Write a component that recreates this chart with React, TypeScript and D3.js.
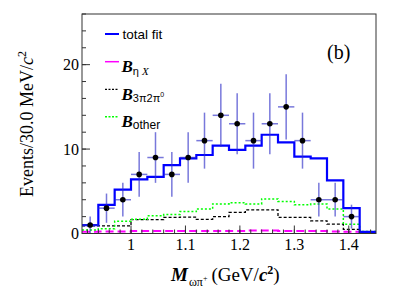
import React from 'react';
import * as d3 from 'd3';

// bin centres (GeV/c^2), 30 MeV bins
const binCenters = [0.925, 0.955, 0.985, 1.015, 1.045, 1.075, 1.105, 1.135, 1.165, 1.195, 1.225, 1.255, 1.285, 1.315, 1.345, 1.375, 1.405, 1.435];
const binHalfWidth = 0.015;
const dataCounts = [1, 3, 4, 7, 9, 7, 9, 11, 14, 13, 11, 13, 15, 11, 4, 4, 2, 0];
const totalFit = [1.0, 3.4, 5.2, 6.4, 6.7, 8.1, 8.9, 9.3, 10.4, 9.9, 10.4, 11.7, 10.8, 9.1, 8.9, 6.3, 3.0, 0.2];
const bkgEtaX = [0.2, 0.25, 0.25, 0.3, 0.3, 0.3, 0.3, 0.3, 0.3, 0.3, 0.35, 0.35, 0.3, 0.3, 0.3, 0.25, 0.2, 0.1];
const bkg3pi2pi0 = [0.9, 0.9, 0.9, 1.65, 1.65, 1.9, 1.95, 1.67, 2.0, 2.5, 2.8, 2.8, 1.9, 1.9, 1.5, 1.1, 0.5, 0.2];
const bkgOther = [0.4, 0.55, 1.45, 1.7, 2.1, 2.25, 2.6, 2.9, 3.5, 3.65, 3.5, 4.1, 3.8, 3.4, 3.5, 2.9, 1.1, 0.24];
const xTicks = [1, 1.1, 1.2, 1.3, 1.4];
const yTicks = [0, 10, 20];

const W = 409;
const H = 293;
const serif = '"Liberation Serif", "DejaVu Serif", serif';
const sans = '"Liberation Sans", Arial, sans-serif';

export default function App() {
  const x = d3.scaleLinear().domain([0.91, 1.45]).range([82, 376]);
  const y = d3.scaleLinear().domain([0, 26]).range([233.5, 14]);

  const stepPath = (vals: number[]) => {
    const pts: [number, number][] = vals.map((v, i) => [binCenters[i] - binHalfWidth, v]);
    pts.push([binCenters[binCenters.length - 1] + binHalfWidth, vals[vals.length - 1]]);
    return d3
      .line<[number, number]>()
      .x((d) => x(d[0]))
      .y((d) => y(d[1]))
      .curve(d3.curveStepAfter)(pts) as string;
  };

  const minorX = d3.range(0.92, 1.451, 0.02);
  const minorY = d3.range(0, 26.01, 2);

  const legend = [
    { color: '#0000ff', dash: '', width: 2, y: 34 },
    { color: '#ff00ff', dash: '', width: 1.5, y: 61.7 },
    { color: '#000', dash: '2,1.5', width: 1.3, y: 89.3 },
    { color: '#00ff00', dash: '2,1.5', width: 1.5, y: 116.7 },
  ];

  return (
    <svg width={W} height={H} style={{ position: 'absolute', left: 0, top: 0, background: '#fff' }}>
      {/* background histograms */}
      <path d={stepPath(bkgEtaX)} fill="none" stroke="#ff00ff" strokeWidth={2} strokeDasharray="8,4" />
      <path d={stepPath(bkg3pi2pi0)} fill="none" stroke="#000" strokeWidth={1.3} strokeDasharray="3,2" />
      <path d={stepPath(bkgOther)} fill="none" stroke="#00ff00" strokeWidth={1.5} strokeDasharray="2,2" />
      <path d={stepPath(totalFit)} fill="none" stroke="#0000ff" strokeWidth={2.2} />

      {/* data points */}
      {dataCounts.map((n, i) =>
        n > 0 ? (
          <g key={i}>
            <line x1={x(binCenters[i])} x2={x(binCenters[i])} y1={y(n - Math.sqrt(n))} y2={y(n + Math.sqrt(n))} stroke="#3030c8" strokeOpacity={0.65} strokeWidth={1.5} />
            <line x1={x(binCenters[i] - binHalfWidth)} x2={x(binCenters[i] + binHalfWidth)} y1={y(n)} y2={y(n)} stroke="#3030c8" strokeOpacity={0.65} strokeWidth={1.5} />
            <circle cx={x(binCenters[i])} cy={y(n)} r={2.8} fill="#000" />
          </g>
        ) : null
      )}

      {/* frame */}
      <rect x={82} y={14} width={294} height={219.5} fill="none" stroke="#333" strokeWidth={1} />

      {/* x ticks */}
      {minorX.map((t, i) => (
        <line key={'mx' + i} x1={x(t)} x2={x(t)} y1={y(0)} y2={y(0) - 4} stroke="#333" />
      ))}
      {xTicks.map((t) => (
        <g key={'x' + t}>
          <line x1={x(t)} x2={x(t)} y1={y(0)} y2={y(0) - 8} stroke="#333" />
          <text x={x(t)} y={250} textAnchor="middle" fontFamily={serif} fontSize={16}>
            {t}
          </text>
        </g>
      ))}

      {/* y ticks */}
      {minorY.map((t, i) => (
        <line key={'my' + i} x1={82} x2={86} y1={y(t)} y2={y(t)} stroke="#333" />
      ))}
      {yTicks.map((t) => (
        <g key={'y' + t}>
          <line x1={82} x2={90} y1={y(t)} y2={y(t)} stroke="#333" />
          <text x={79} y={y(t) + 5.5} textAnchor="end" fontFamily={serif} fontSize={16}>
            {t}
          </text>
        </g>
      ))}

      {/* axis titles */}
      <text transform="translate(33,124) rotate(-90)" textAnchor="middle" fontFamily={serif} fontSize={18}>
        Events/30.0 MeV/<tspan fontStyle="italic">c</tspan>
        <tspan dy={-7} fontSize={12}>2</tspan>
      </text>
      <text x={171} y={281} fontFamily={serif} fontSize={19}>
        <tspan fontWeight="bold" fontStyle="italic">M</tspan>
        <tspan dy={5} dx={1} fontSize={12}>ωπ</tspan>
        <tspan dy={-5} fontSize={8}>+</tspan>
        <tspan dy={0} dx={4}>(GeV/</tspan>
        <tspan fontWeight="bold" fontStyle="italic">c</tspan>
        <tspan dy={-7} fontSize={12} fontWeight="bold">2</tspan>
        <tspan dy={7}>)</tspan>
      </text>

      {/* legend */}
      {legend.map((l, i) => (
        <line key={'lg' + i} x1={105} x2={119} y1={l.y} y2={l.y} stroke={l.color} strokeWidth={l.width} strokeDasharray={l.dash} />
      ))}
      <text x={122.5} y={39} fontFamily={sans} fontSize={13.5}>
        total fit
      </text>
      <text x={121.5} y={71.5} fontFamily={serif} fontSize={17}>
        <tspan fontWeight="bold" fontStyle="italic">B</tspan>
        <tspan dy={3} fontSize={11} fontFamily={sans}>η </tspan>
        <tspan fontSize={11} fontStyle="italic">X</tspan>
      </text>
      <text x={121.5} y={99.5} fontFamily={serif} fontSize={17}>
        <tspan fontWeight="bold" fontStyle="italic">B</tspan>
        <tspan dy={2} fontSize={11} fontFamily={sans}>3π2π</tspan>
        <tspan dy={-5} fontSize={7} fontFamily={sans}>0</tspan>
      </text>
      <text x={121.5} y={126.5} fontFamily={serif} fontSize={17}>
        <tspan fontWeight="bold" fontStyle="italic">B</tspan>
        <tspan dy={2} fontSize={12} fontFamily={sans}>other</tspan>
      </text>

      <text x={327} y={58.5} fontFamily={serif} fontSize={20}>
        (b)
      </text>
    </svg>
  );
}
